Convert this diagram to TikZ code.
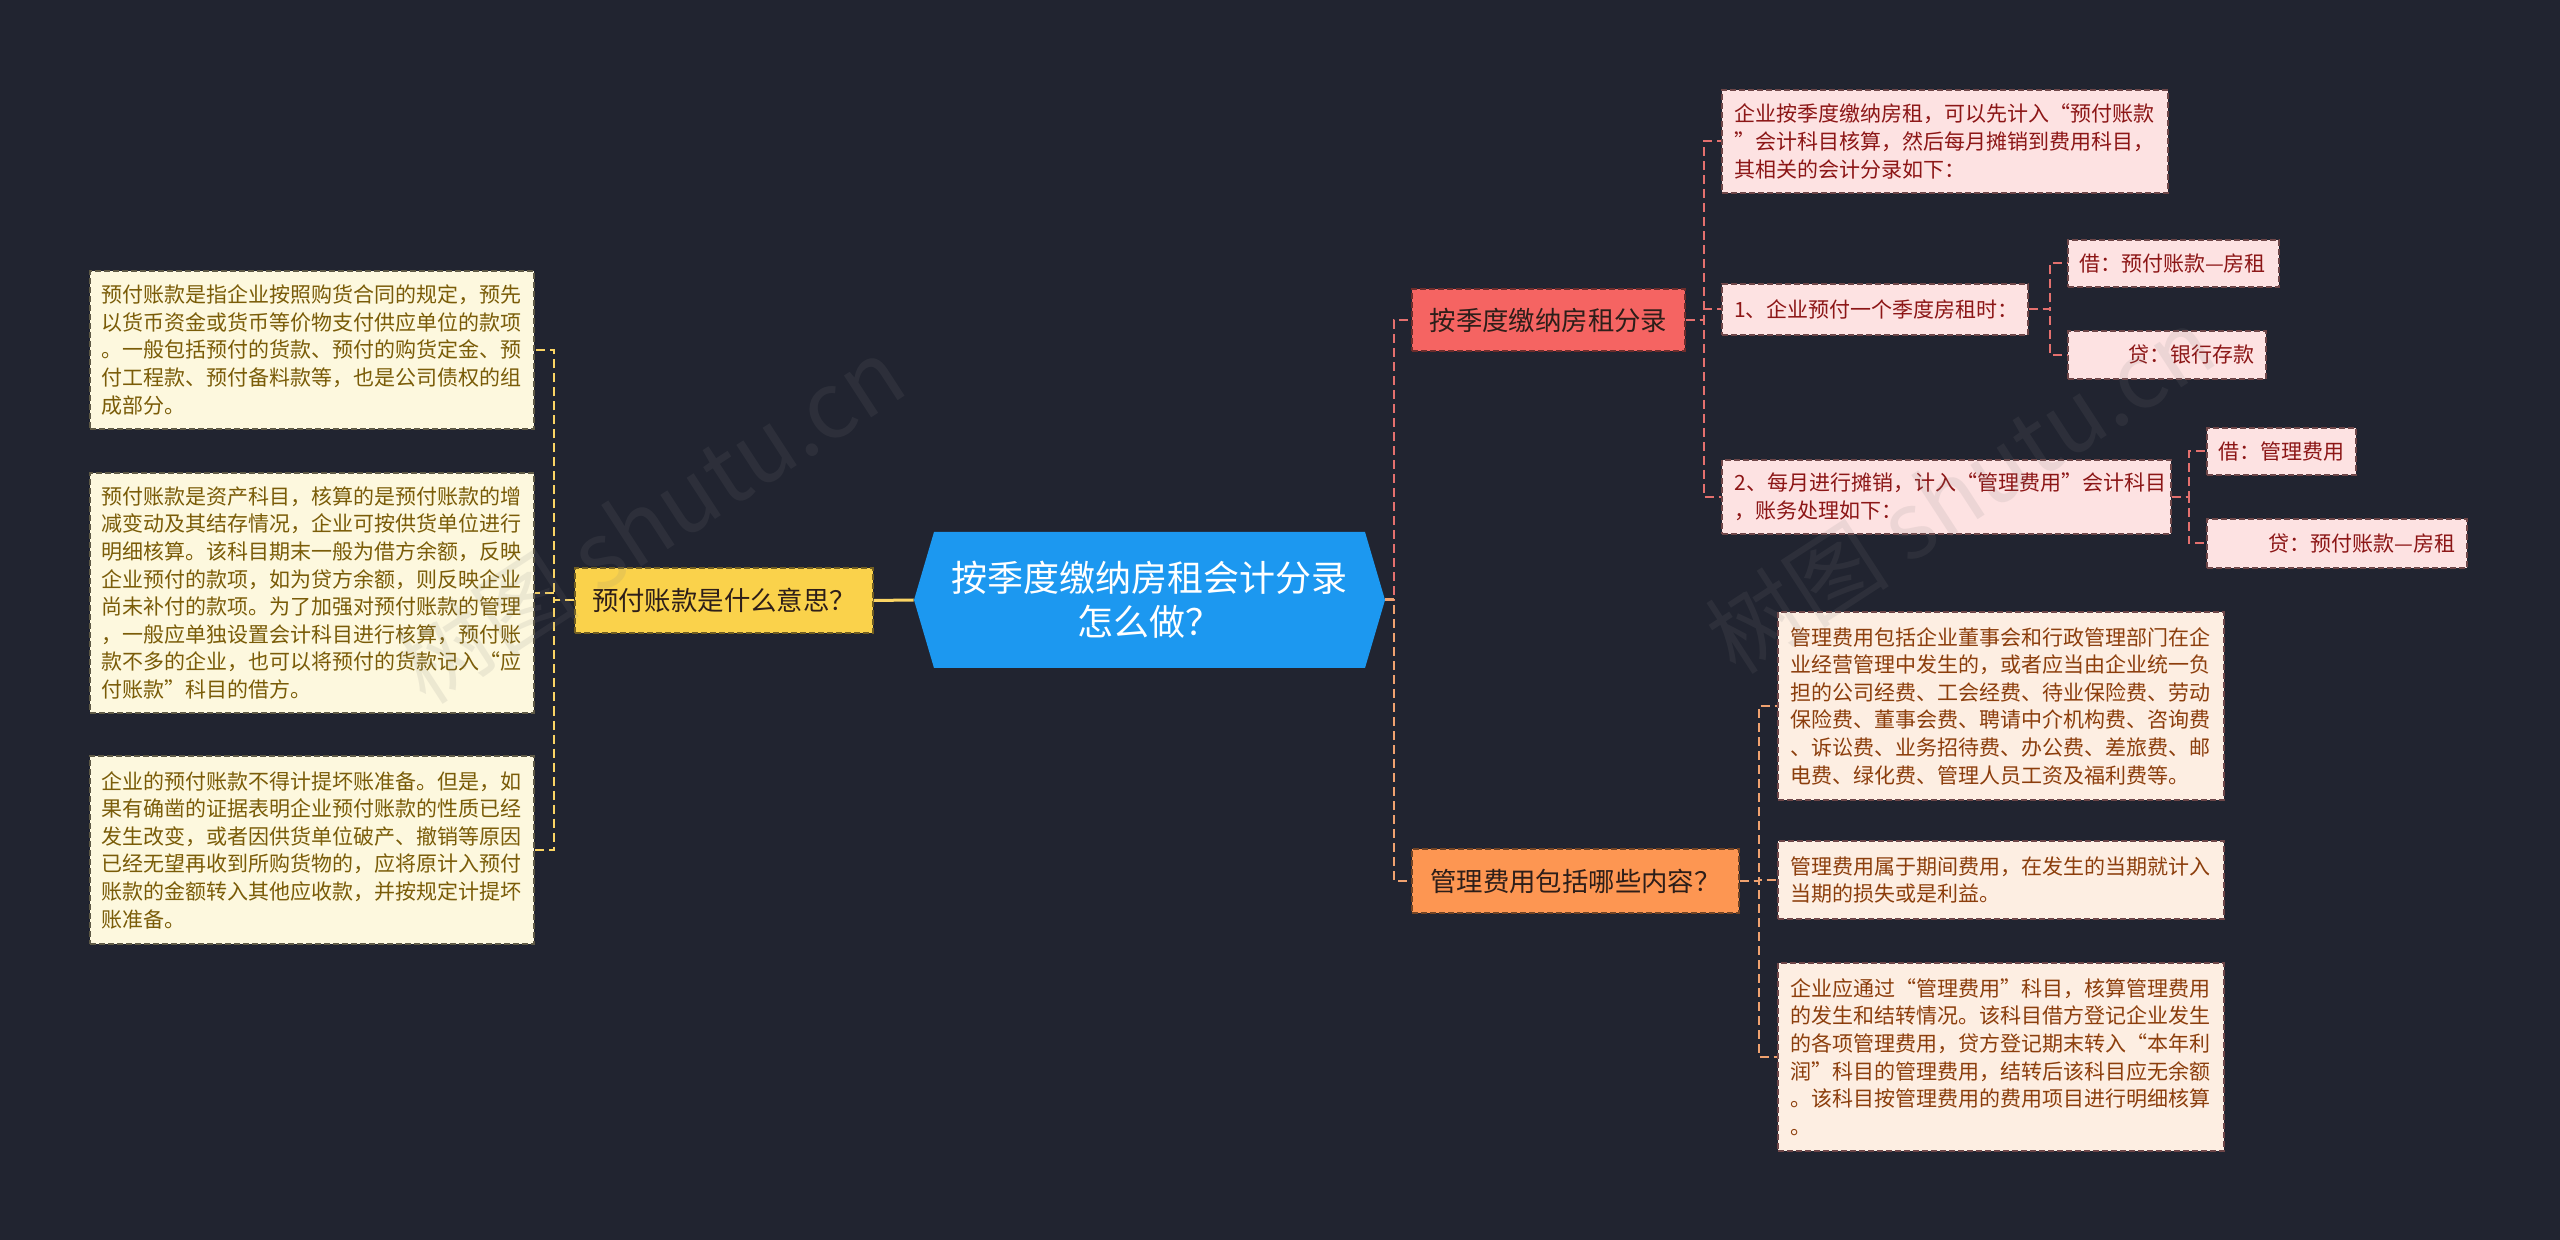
\documentclass[tikz,border=0pt]{standalone}
\usepackage{fontspec}
\setmainfont{Noto Sans CJK SC}
\definecolor{bg}{RGB}{33,36,48}
\definecolor{cream}{RGB}{253,248,222}
\definecolor{creamtext}{RGB}{122,92,8}
\definecolor{creamline}{RGB}{95,90,70}
\definecolor{yel}{RGB}{250,210,75}
\definecolor{yelline}{RGB}{250,212,100}
\definecolor{mainblue}{RGB}{28,152,240}
\definecolor{redn}{RGB}{245,100,98}
\definecolor{redline}{RGB}{228,112,110}
\definecolor{pink}{RGB}{253,226,226}
\definecolor{pinktext}{RGB}{140,22,22}
\definecolor{pinkline}{RGB}{110,70,72}
\definecolor{orn}{RGB}{253,150,82}
\definecolor{ornline}{RGB}{240,162,112}
\definecolor{peach}{RGB}{253,238,226}
\definecolor{peachtext}{RGB}{140,62,12}
\definecolor{darktext}{RGB}{45,30,25}
\newcommand\myfbody{\fontsize{10.5}{13.8}\selectfont}
\newcommand\myfmid{\fontsize{13.2}{16}\selectfont}
\newcommand\myfbig{\fontsize{18}{22}\selectfont}
\tikzset{
  box/.style={inner sep=0pt, align=left, font=\myfbody, draw, dash pattern=on 3pt off 1.5pt, line width=0.6pt},
  lbox/.style={box, fill=cream, draw=creamline, text=creamtext, minimum width=222pt, text width=211pt},
  pbox/.style={box, fill=pink, draw=pinkline, text=pinktext},
  obox/.style={box, fill=peach, draw=pinkline, text=peachtext, minimum width=223pt, text width=211pt},
  topic/.style={inner sep=0pt, align=center, font=\myfmid, text=darktext, draw, dash pattern=on 3pt off 1.5pt, line width=0.6pt},
  conn/.style={line width=1pt, dash pattern=on 4.5pt off 2.5pt},
  wm/.style={font=\fontsize{46}{50}\selectfont, text=gray, opacity=0.13, rotate=33}
}
\begin{document}
\begin{tikzpicture}[x=0.5pt,y=-0.5pt]
\fill[bg] (0,0) rectangle (2560,1240);
\useasboundingbox (0,0) rectangle (2560,1240);

% central node
\fill[mainblue] (914,600) -- (934,532) -- (1365,532) -- (1385,600) -- (1365,668) -- (934,668) -- cycle;
\node[inner sep=0pt, minimum width=235.5pt, minimum height=68pt, align=center, font=\myfbig, text=white] (ctr) at (1149.5,600) {按季度缴纳房租会计分录\\怎么做？};

% left side
\node[topic, fill=yel, draw=yel!45!black, minimum width=149pt, minimum height=32.5pt] (yq) at (724,600.5) {预付账款是什么意思？};
\node[lbox, minimum height=79pt] (L1) at (312,350) {预付账款是指企业按照购货合同的规定，预先\\以货币资金或货币等价物支付供应单位的款项\\。一般包括预付的货款、预付的购货定金、预\\付工程款、预付备料款等，也是公司债权的组\\成部分。};
\node[lbox, minimum height=120pt] (L2) at (312,593) {预付账款是资产科目，核算的是预付账款的增\\减变动及其结存情况，企业可按供货单位进行\\明细核算。该科目期末一般为借方余额，反映\\企业预付的款项，如为贷方余额，则反映企业\\尚未补付的款项。为了加强对预付账款的管理\\，一般应单独设置会计科目进行核算，预付账\\款不多的企业，也可以将预付的货款记入“应\\付账款”科目的借方。};
\node[lbox, minimum height=94pt] (L3) at (312,850) {企业的预付账款不得计提坏账准备。但是，如\\果有确凿的证据表明企业预付账款的性质已经\\发生改变，或者因供货单位破产、撤销等原因\\已经无望再收到所购货物的，应将原计入预付\\账款的金额转入其他应收款，并按规定计提坏\\账准备。};

\draw[yelline, line width=1.5pt] (ctr.west) -- (yq.east);
\draw[conn, yelline] (yq.west) -- ++(-20,0) |- (L1.east);
\draw[conn, yelline] (yq.west) -- ++(-20,0) |- (L2.east);
\draw[conn, yelline] (yq.west) -- ++(-20,0) |- (L3.east);

% right side: topics
\node[topic, fill=redn, draw=redn!45!black, minimum width=136.5pt, minimum height=31pt] (rq) at (1548.5,320) {按季度缴纳房租分录};
\node[topic, fill=orn, draw=orn!45!black, minimum width=163.5pt, minimum height=32pt] (oq) at (1575.5,881) {管理费用包括哪些内容？};

\draw[conn, redline] (ctr.east) -- ++(9,0) |- (rq.west);
\draw[conn, ornline] (ctr.east) -- ++(9,0) |- (oq.west);
\draw[ornline, line width=1.5pt] (ctr.east) -- ++(9,0);

% red branch
\node[pbox, minimum width=223pt, text width=211pt, minimum height=51.5pt] (A) at (1945,141.5) {企业按季度缴纳房租，可以先计入“预付账款\\”会计科目核算，然后每月摊销到费用科目，\\其相关的会计分录如下：};
\node[pbox, minimum width=153pt, text width=141pt, minimum height=25.5pt] (B) at (1875,309.5) {1、企业预付一个季度房租时：};
\node[pbox, minimum width=224.5pt, text width=212pt, minimum height=37pt] (C) at (1946.5,497) {2、每月进行摊销，计入“管理费用”会计科目\\，账务处理如下：};
\node[pbox, minimum width=105.5pt, text width=94.5pt, minimum height=23.5pt] (B1) at (2173.5,263.5) {借：预付账款—房租};
\node[pbox, minimum width=99pt, text width=87pt, minimum height=24pt, align=right] (B2) at (2167,355) {贷：银行存款};
\node[pbox, minimum width=74.5pt, text width=63pt, minimum height=23.5pt] (C1) at (2281.5,451.5) {借：管理费用};
\node[pbox, minimum width=130pt, text width=118pt, minimum height=24.5pt, align=right] (C2) at (2337,543.5) {贷：预付账款—房租};

\draw[conn, redline] (rq.east) -- ++(18,0) |- (A.west);
\draw[conn, redline] (rq.east) -- ++(18,0) |- (B.west);
\draw[conn, redline] (rq.east) -- ++(18,0) |- (C.west);
\draw[conn, redline] (B.east) -- ++(21,0) |- (B1.west);
\draw[conn, redline] (B.east) -- ++(21,0) |- (B2.west);
\draw[conn, redline] (C.east) -- ++(17,0) |- (C1.west);
\draw[conn, redline] (C.east) -- ++(17,0) |- (C2.west);

% orange branch
\node[obox, minimum height=94pt] (D) at (2001,706) {管理费用包括企业董事会和行政管理部门在企\\业经营管理中发生的，或者应当由企业统一负\\担的公司经费、工会经费、待业保险费、劳动\\保险费、董事会费、聘请中介机构费、咨询费\\、诉讼费、业务招待费、办公费、差旅费、邮\\电费、绿化费、管理人员工资及福利费等。};
\node[obox, minimum height=39pt] (E) at (2001,880) {管理费用属于期间费用，在发生的当期就计入\\当期的损失或是利益。};
\node[obox, minimum height=94pt] (F) at (2001,1057) {企业应通过“管理费用”科目，核算管理费用\\的发生和结转情况。该科目借方登记企业发生\\的各项管理费用，贷方登记期末转入“本年利\\润”科目的管理费用，结转后该科目应无余额\\。该科目按管理费用的费用项目进行明细核算\\。};

\draw[conn, ornline] (oq.east) -- ++(19,0) |- (D.west);
\draw[conn, ornline] (oq.east) -- ++(19,0) |- (E.west);
\draw[conn, ornline] (oq.east) -- ++(19,0) |- (F.west);

% watermarks
\node[wm] (wm1) at (650,520) {树图 shutu.cn};
\node[wm] (wm2) at (1960,490) {树图 shutu.cn};
\end{tikzpicture}
\end{document}
